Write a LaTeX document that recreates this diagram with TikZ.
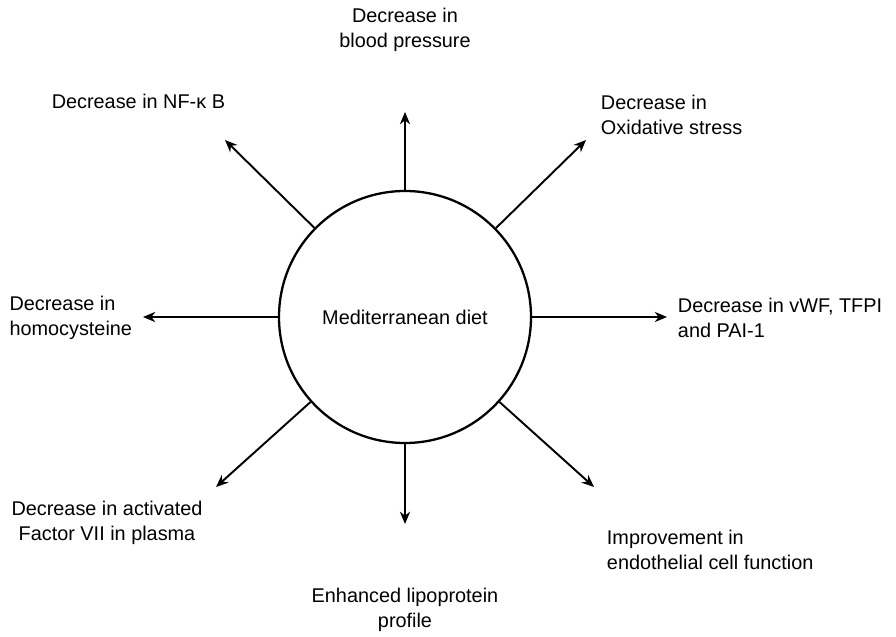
\documentclass[tikz,border=0pt]{standalone}
\usepackage{fontspec}
\setmainfont{Liberation Sans}
\usetikzlibrary{arrows.meta}
\begin{document}
\begin{tikzpicture}[>={Stealth[length=7pt,width=5.8pt]}, line width=1.1pt,
  every node/.style={font=\fontsize{11.3pt}{14.2pt}\selectfont},
  effect/.style={inner sep=0pt}]
\useasboundingbox (0,0) rectangle (17.92,12.72);

\node[circle, draw, line width=1.3pt, minimum size=5.04cm, inner sep=0pt] (diet) at (8.1,6.38) {Mediterranean diet};

% arrow tips
\coordinate (tipN)  at (8.1,10.48);
\coordinate (tipS)  at (8.1,2.24);
\coordinate (tipW)  at (2.86,6.38);
\coordinate (tipE)  at (13.34,6.38);
\coordinate (tipNE) at (11.72,9.92);
\coordinate (tipNW) at (4.5,9.92);
\coordinate (tipSW) at (4.32,2.98);
\coordinate (tipSE) at (11.88,2.98);

\draw[->] (diet) -- (tipN);
\draw[->] (diet) -- (tipS);
\draw[->] (diet) -- (tipW);
\draw[->] (diet) -- (tipE);
\draw[->] (diet) -- (tipNE);
\draw[->] (diet) -- (tipNW);
\draw[->] (diet) -- (tipSW);
\draw[->] (diet) -- (tipSE);

% effects
\node[effect, align=center] (bp) at (8.1,12.13) {Decrease in\\blood pressure};
\node[effect, anchor=east] (nfkb) at (4.52,10.7) {Decrease in NF-κ B};
\node[effect, anchor=west, align=left] (ox) at (12,10.43) {Decrease in\\Oxidative stress};
\node[effect, anchor=east, align=left] (hcy) at (2.66,6.36) {Decrease in\\homocysteine};
\node[effect, anchor=west, align=left] (vwf) at (13.54,6.36) {Decrease in vWF, TFPI\\and PAI-1};
\node[effect, align=center] (f7) at (2.14,2.27) {Decrease in activated\\Factor VII in plasma};
\node[effect, anchor=west, align=left] (endo) at (12.12,1.72) {Improvement in\\endothelial cell function};
\node[effect, align=center] (lipo) at (8.1,0.52) {Enhanced lipoprotein\\profile};
\end{tikzpicture}
\end{document}
